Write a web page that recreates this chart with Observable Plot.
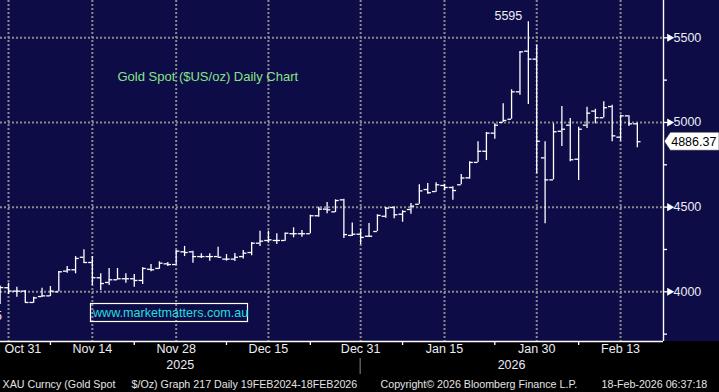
<!DOCTYPE html>
<html><head><meta charset="utf-8">
<script src="https://cdn.jsdelivr.net/npm/d3@7"></script>
<script src="https://cdn.jsdelivr.net/npm/@observablehq/plot@0.6"></script>
<style>
html,body{margin:0;padding:0;background:#000;}
#chart svg{display:block;}
</style>
</head><body><div id="chart"></div>
<script>
// ---- data ----
const dates = ["2025-10-30","2025-10-31","2025-11-03","2025-11-04","2025-11-05","2025-11-06","2025-11-07","2025-11-10","2025-11-11","2025-11-12","2025-11-13","2025-11-14","2025-11-17","2025-11-18","2025-11-19","2025-11-20","2025-11-21","2025-11-24","2025-11-25","2025-11-26","2025-11-27","2025-11-28","2025-12-01","2025-12-02","2025-12-03","2025-12-04","2025-12-05","2025-12-08","2025-12-09","2025-12-10","2025-12-11","2025-12-12","2025-12-15","2025-12-16","2025-12-17","2025-12-18","2025-12-19","2025-12-22","2025-12-23","2025-12-24","2025-12-26","2025-12-29","2025-12-30","2025-12-31","2026-01-02","2026-01-05","2026-01-06","2026-01-07","2026-01-08","2026-01-09","2026-01-12","2026-01-13","2026-01-14","2026-01-15","2026-01-16","2026-01-19","2026-01-20","2026-01-21","2026-01-22","2026-01-23","2026-01-26","2026-01-27","2026-01-28","2026-01-29","2026-01-30","2026-02-02","2026-02-03","2026-02-04","2026-02-05","2026-02-06","2026-02-09","2026-02-10","2026-02-11","2026-02-12","2026-02-13","2026-02-16","2026-02-17"];
const open = [3972,4024,4004,4004,3937,3972,3976,4000,4122,4130, 4204,4173,4083,4055,4071,4077,4077,4067,4133,4138, 4165,4161,4236,4236,4208,4208,4208,4193,4193,4208, 4232,4287,4303,4303,4303,4343,4343,4343,4449,4488, 4472,4543,4333,4340,4328,4356,4446,4498,4458,4486, 4517,4604,4592,4628,4616,4632,4673,4764,4830,4937, 5000,5019,5181,5421,5374,4791,4661,4948,4984,4783, 4984,5067,5028,5094,4913,5039,4992];
const high = [4034,4051,4027,4008,3968,4021,4031,4120,4149,4208, 4248,4208,4106,4138,4138,4106,4102,4142,4161,4177, 4173,4244,4268,4240,4224,4224,4263,4220,4226,4244, 4291,4358,4358,4343,4346,4378,4362,4452,4500,4527, 4543,4547,4406,4368,4403,4455,4498,4502,4479,4521, 4632,4640,4644,4635,4620,4693,4768,4886,4941,4992, 5110,5193,5417,5595,5456,4886,4992,5094,5023,4972, 5090,5078,5122,5102,5043,5039,4996];
const low = [3925,3984,3968,3937,3933,3968,3972,4000,4110,4106, 4169,4037,4008,4037,4071,4051,4027,4043,4118,4133, 4149,4157,4208,4169,4197,4181,4204,4181,4179,4193, 4213,4268,4287,4279,4299,4319,4322,4343,4441,4461, 4468,4315,4327,4278,4321,4356,4435,4431,4411,4458, 4517,4576,4588,4596,4541,4632,4665,4764,4775,4901, 5000,5019,5161,5106,4697,4402,4661,4858,4768,4657, 4964,4992,5028,4886,4889,4976,4850];
const close = [4025,4004,4004,3937,3964,3976,4004,4118,4130,4197, 4173,4083,4049,4071,4077,4077,4067,4138,4130,4169, 4161,4240,4232,4208,4208,4208,4204,4193,4204,4228, 4287,4299,4307,4303,4346,4343,4343,4449,4488,4484, 4539,4338,4340,4321,4328,4451,4494,4455,4474,4506, 4596,4585,4632,4616,4598,4672,4764,4830,4937,4984, 5012,5181,5417,5374,4889,4661,4945,4960,4780,4960, 5055,5028,5087,4921,5039,4992,4886.37];

const tickDates = ["2025-10-31","2025-11-14","2025-11-28","2025-12-15","2025-12-31","2026-01-15","2026-01-30","2026-02-13"];
const tickLabels = ["Oct 31","Nov 14","Nov 28","Dec 15","Dec 31","Jan 15","Jan 30","Feb 13"];
const minorTickDates = ["2025-11-07","2025-11-21","2025-12-08","2025-12-22","2026-01-08","2026-01-23","2026-02-06"];
const yearLabels = ["2025","2026"];
const yearLabelDates = ["2025-11-28","2026-01-27"];
const yearSeparatorDate = "2025-12-31";
const yTicks = [4000,4500,5000,5500];
const yMinorTicks = [3750,4250,4750,5250];
const title = "Gold Spot ($US/oz) Daily Chart";
const watermark = "www.marketmatters.com.au";
const footer = ["XAU Curncy (Gold Spot", "$/Oz) Graph 217 Daily 19FEB2024-18FEB2026", "Copyright\u00A9 2026 Bloomberg Finance L.P.", "18-Feb-2026 06:37:18"];
const footerOffsets = [2, 131, 380, 601];

// ---- build ----
const NAVY = "#0e0c47";
const GRID = "#8a8a8e";
const TXT = "#ececf4";
const FONT = "'Liberation Sans', Arial, sans-serif";
const rows = dates.map((d, i) => ({i, date: d, open: open[i], high: high[i], low: low[i], close: close[i]}));
const idx = d => dates.indexOf(d);
const ticks = tickDates.map((d, k) => ({i: idx(d), label: tickLabels[k]}));
const minorTicks = minorTickDates.map(idx);
const years = yearLabelDates.map((d, k) => ({i: idx(d), label: yearLabels[k]}));
const hiRow = rows.reduce((a, b) => b.high > a.high ? b : a);
const loRow = rows.reduce((a, b) => b.low < a.low ? b : a);
const last = rows[rows.length - 1];
const xDomain = [0.046, 79.12];
const yDomain = [3706.5, 5720.3];

const bg = (index, scales, values, dims) => {
  const g = d3.create("svg:g");
  g.append("rect").attr("x", 0).attr("y", 0).attr("width", dims.width)
    .attr("height", dims.height - dims.marginBottom).attr("fill", NAVY);
  return g.node();
};

const lastLabelBox = (index, scales, values, dims) => {
  const yy = scales.y(last.close);
  const x0 = dims.width - dims.marginRight + 1.3;
  const g = d3.create("svg:g");
  g.append("path")
    .attr("d", `M${x0},${yy} L${x0 + 6},${yy - 9} L${dims.width},${yy - 9} L${dims.width},${yy + 9} L${x0 + 6},${yy + 9} Z`)
    .attr("fill", "#ffffff").attr("stroke", "#222").attr("stroke-width", 0.5);
  return g.node();
};

const watermarkRect = (index, scales, values, dims) => {
  const bottom = dims.height - dims.marginBottom;
  const g = d3.create("svg:g");
  g.append("rect").attr("x", 90.5).attr("y", bottom - 37.5).attr("width", 157).attr("height", 18)
    .attr("fill", "none").attr("stroke", "#ffffff").attr("stroke-width", 1.2);
  return g.node();
};

const separator = (index, scales, values, dims) => {
  const g = d3.create("svg:g");
  const bottom = dims.height - dims.marginBottom;
  const xs = scales.x(idx(yearSeparatorDate));
  g.append("line").attr("x1", xs).attr("x2", xs).attr("y1", bottom + 17).attr("y2", bottom + 33)
    .attr("stroke", GRID).attr("stroke-width", 1);
  return g.node();
};

const bar = {stroke: "#ffffff", strokeWidth: 1.3};

const chart = Plot.plot({
  width: 719,
  height: 392,
  marginLeft: 0,
  marginRight: 56,
  marginTop: 0,
  marginBottom: 51,
  style: {background: "#000", fontFamily: FONT, overflow: "visible"},
  x: {type: "linear", domain: xDomain, axis: null, label: null},
  y: {type: "linear", domain: yDomain, axis: null, label: null},
  marks: [
    bg,
    Plot.gridX(ticks.map(t => t.i), {stroke: GRID, strokeOpacity: 1, strokeWidth: 2, strokeDasharray: "2,2"}),
    Plot.gridY(yTicks, {stroke: GRID, strokeOpacity: 1, strokeWidth: 2, strokeDasharray: "2,2"}),
    Plot.text([title], {frameAnchor: "top-left", dx: 117, dy: 76, textAnchor: "start", lineAnchor: "middle", fill: "#86e486", fontSize: 13}),
    watermarkRect,
    Plot.text([watermark], {frameAnchor: "bottom-left", dx: 92.5, dy: -28.6, textAnchor: "start", lineAnchor: "middle", fill: "#22dede", fontSize: 12.6}),
    // OHLC bars
    Plot.ruleX(rows, {x: "i", y1: "low", y2: "high", ...bar, clip: true}),
    Plot.ruleY(rows, {y: "open", x1: d => d.i - 0.44, x2: "i", ...bar, clip: true}),
    Plot.ruleY(rows, {y: "close", x1: "i", x2: d => d.i + 0.44, ...bar, clip: true}),
    // annotations
    Plot.text([hiRow], {x: "i", y: "high", text: d => String(d.high), dx: -20, dy: -6, fill: TXT, fontSize: 12.5}),
    Plot.text([loRow], {x: "i", y: "low", text: d => String(d.low), dx: -12, dy: 11, fill: TXT, fontSize: 12.5}),
    // axes
    Plot.ruleY([yDomain[0]], {stroke: "#ffffff", strokeWidth: 1.4}),
    Plot.ruleX([xDomain[1]], {stroke: "#ffffff", strokeWidth: 1.4}),
    Plot.ruleX(minorTicks, {x: d => d, y1: yDomain[0], y2: yDomain[0], insetBottom: -4, stroke: "#ffffff", strokeWidth: 1.3}),
    Plot.ruleY(yMinorTicks, {y: d => d, x1: xDomain[1], x2: xDomain[1], insetRight: -4, stroke: "#ffffff", strokeWidth: 1.3}),
    Plot.ruleY(yTicks, {y: d => d, x1: xDomain[1], x2: xDomain[1], insetRight: -6, stroke: "#ffffff", strokeWidth: 1.3}),
    Plot.dot(yTicks, {y: d => d, frameAnchor: "right", dx: 6, symbol: "triangle", rotate: 90, r: 3, fill: "#ffffff", stroke: null}),
    Plot.text(yTicks, {y: d => d, text: d => String(d), frameAnchor: "right", dx: 10, textAnchor: "start", fill: TXT, fontSize: 12.5}),
    Plot.text(ticks.slice(0, 1), {x: "i", text: "label", frameAnchor: "bottom", dx: -4, dy: 11, textAnchor: "start", fill: TXT, fontSize: 12.5}),
    Plot.text(ticks.slice(1), {x: "i", text: "label", frameAnchor: "bottom", dy: 11, fill: TXT, fontSize: 12.5}),
    Plot.text(years.slice(0, 1), {x: "i", text: "label", frameAnchor: "bottom", dx: 4, dy: 27, fill: TXT, fontSize: 12.5}),
    Plot.text(years.slice(1), {x: "i", text: "label", frameAnchor: "bottom", dy: 27, fill: TXT, fontSize: 12.5}),
    separator,
    lastLabelBox,
    Plot.text([last], {y: "close", text: d => d.close.toFixed(2), frameAnchor: "right", dx: 7.7, textAnchor: "start", fill: "#000", fontSize: 12.5}),
    ...footer.map((t, k) => Plot.text([t], {frameAnchor: "bottom-left", dx: footerOffsets[k], dy: 43.5, textAnchor: "start", lineAnchor: "middle", fill: "#e4e4e4", fontSize: 10.7}))
  ]
});
document.getElementById("chart").appendChild(chart);
</script>
</body></html>
